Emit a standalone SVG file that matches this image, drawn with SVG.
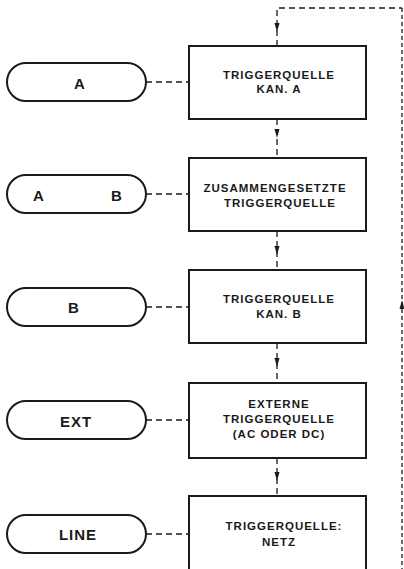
<svg xmlns="http://www.w3.org/2000/svg" width="404" height="569" viewBox="0 0 404 569">
<style>
.box{fill:#fff;stroke:#1a1a1a;stroke-width:2}
.pill{fill:#fff;stroke:#1a1a1a;stroke-width:2}
.bt{font-family:"Liberation Sans",Arial,sans-serif;font-size:11.5px;font-weight:bold;letter-spacing:1px;fill:#1a1a1a;text-anchor:middle}
.pt{font-family:"Liberation Sans",Arial,sans-serif;font-size:15px;font-weight:bold;letter-spacing:1px;fill:#1a1a1a;text-anchor:middle}
.dash{fill:none;stroke:#1a1a1a;stroke-width:1.3;stroke-dasharray:6,4}
.dashr{fill:none;stroke:#1a1a1a;stroke-width:1.3;stroke-dasharray:4,3}
.ah{fill:#1a1a1a}
</style>
<rect width="404" height="569" fill="#fff"/>
<g id="connectors">
<path class="dash" d="M146,82 H189"/>
<path class="dash" d="M146,194 H189"/>
<path class="dash" d="M146,307 H189"/>
<path class="dash" d="M146,420 H189"/>
<path class="dash" d="M146,534 H189"/>
<path class="dash" d="M277,46 V8 H402"/>
<path class="dashr" d="M402,8 V569"/>
<path class="dash" d="M277,119 V158"/>
<path class="dash" d="M277,231 V270"/>
<path class="dash" d="M277,343 V383"/>
<path class="dash" d="M277,458 V496"/>
<polygon class="ah" points="274.5,23 279.5,23 277,32"/>
<polygon class="ah" points="274.5,129 279.5,129 277,138"/>
<polygon class="ah" points="274.5,246 279.5,246 277,255"/>
<polygon class="ah" points="274.5,358 279.5,358 277,367"/>
<polygon class="ah" points="274.5,472 279.5,472 277,481"/>
<polygon class="ah" points="399.5,309 404.5,309 402,300"/>
</g>
<g id="pill-a"><rect class="pill" x="7" y="63" width="139" height="38" rx="19"/><text class="pt" x="80" y="89">A</text></g>
<g id="pill-ab"><rect class="pill" x="7" y="175" width="139" height="38" rx="19"/><text class="pt" x="39" y="201">A</text><text class="pt" x="117" y="201">B</text></g>
<g id="pill-b"><rect class="pill" x="7" y="288" width="139" height="38" rx="19"/><text class="pt" x="74" y="313">B</text></g>
<g id="pill-ext"><rect class="pill" x="7" y="401" width="139" height="38" rx="19"/><text class="pt" x="76" y="427">EXT</text></g>
<g id="pill-line"><rect class="pill" x="7" y="515" width="139" height="38" rx="19"/><text class="pt" x="78" y="540">LINE</text></g>
<g id="box-kan-a"><rect class="box" x="189" y="46" width="177" height="73"/><text class="bt" x="279" y="79">TRIGGERQUELLE</text><text class="bt" x="279" y="93">KAN. A</text></g>
<g id="box-zus"><rect class="box" x="189" y="158" width="177" height="73"/><text class="bt" x="275" y="192">ZUSAMMENGESETZTE</text><text class="bt" x="280" y="207">TRIGGERQUELLE</text></g>
<g id="box-kan-b"><rect class="box" x="189" y="270" width="177" height="73"/><text class="bt" x="279" y="303">TRIGGERQUELLE</text><text class="bt" x="279" y="318">KAN. B</text></g>
<g id="box-ext"><rect class="box" x="189" y="383" width="177" height="75"/><text class="bt" x="279" y="408">EXTERNE</text><text class="bt" x="279" y="423">TRIGGERQUELLE</text><text class="bt" x="279" y="438">(AC ODER DC)</text></g>
<g id="box-netz"><rect class="box" x="189" y="496" width="177" height="80"/><text class="bt" x="284" y="530">TRIGGERQUELLE:</text><text class="bt" x="279" y="546">NETZ</text></g>
</svg>
